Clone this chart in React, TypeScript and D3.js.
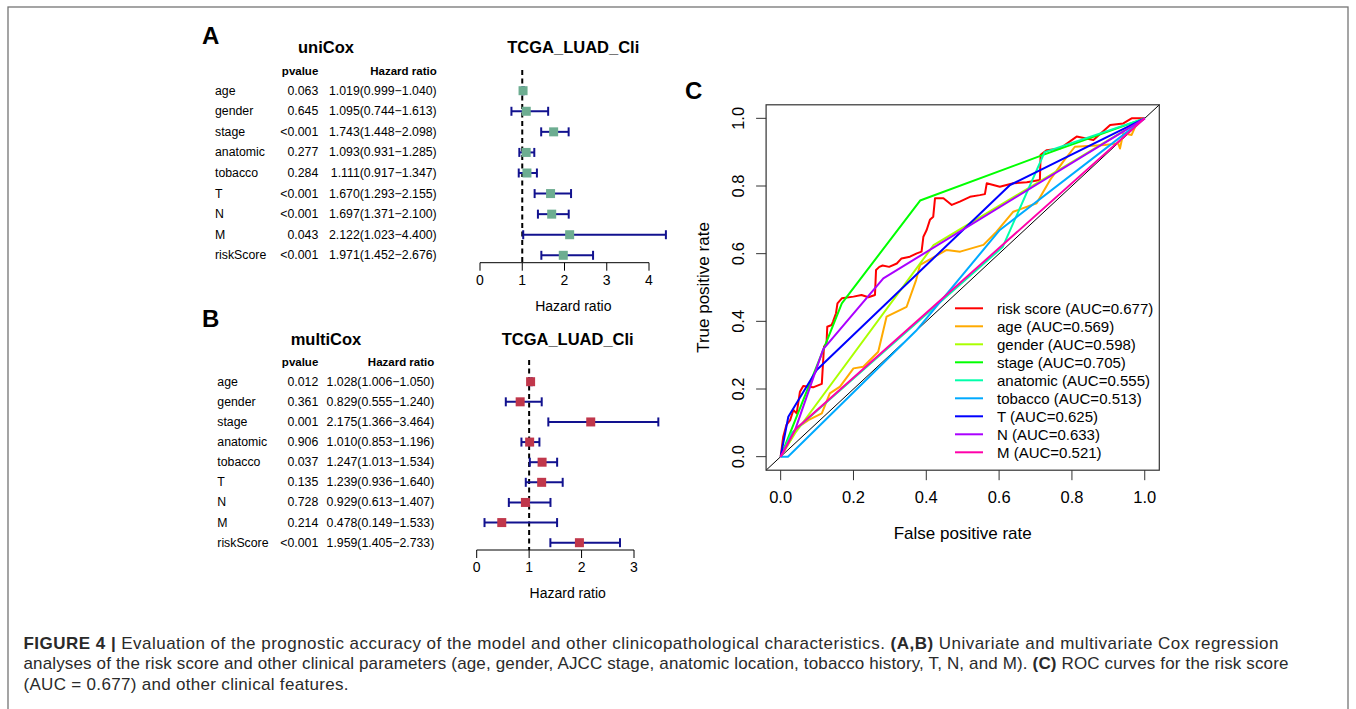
import React from 'react';
import * as d3 from 'd3';

// ---- forest data (A: univariate, B: multivariate) ----
const coxVars = ['age', 'gender', 'stage', 'anatomic', 'tobacco', 'T', 'N', 'M', 'riskScore'];

const uniP = ['0.063', '0.645', '<0.001', '0.277', '0.284', '<0.001', '<0.001', '0.043', '<0.001'];
const uniHR = [1.019, 1.095, 1.743, 1.093, 1.111, 1.670, 1.697, 2.122, 1.971];
const uniLow = [0.999, 0.744, 1.448, 0.931, 0.917, 1.293, 1.371, 1.023, 1.452];
const uniHigh = [1.040, 1.613, 2.098, 1.285, 1.347, 2.155, 2.100, 4.400, 2.676];
const uniTicks = [0, 1, 2, 3, 4];

const multiP = ['0.012', '0.361', '0.001', '0.906', '0.037', '0.135', '0.728', '0.214', '<0.001'];
const multiHR = [1.028, 0.829, 2.175, 1.010, 1.247, 1.239, 0.929, 0.478, 1.959];
const multiLow = [1.006, 0.555, 1.366, 0.853, 1.013, 0.936, 0.613, 0.149, 1.405];
const multiHigh = [1.050, 1.240, 3.464, 1.196, 1.534, 1.640, 1.407, 1.533, 2.733];
const multiTicks = [0, 1, 2, 3];

// ---- ROC data (C) ----
const rocNames = ['risk score', 'age', 'gender', 'stage', 'anatomic', 'tobacco', 'T', 'N', 'M'];
const rocAUC = ['0.677', '0.569', '0.598', '0.705', '0.555', '0.513', '0.625', '0.633', '0.521'];
const rocColors = ['#FF0000', '#FFAA00', '#AAFF00', '#00FF00', '#00FFAA', '#00AAFF', '#0000FF', '#AA00FF', '#FF00AA'];

const rocRisk = [
  [0, 0], [0.007, 0.059], [0.016, 0.094], [0.026, 0.108], [0.035, 0.138], [0.044, 0.128],
  [0.053, 0.192], [0.062, 0.209], [0.089, 0.205], [0.113, 0.215], [0.119, 0.325],
  [0.126, 0.335], [0.128, 0.384], [0.14, 0.389], [0.144, 0.40], [0.152, 0.424],
  [0.156, 0.453], [0.168, 0.468], [0.2, 0.473], [0.222, 0.478], [0.241, 0.471],
  [0.259, 0.478], [0.262, 0.552], [0.271, 0.561], [0.28, 0.565], [0.298, 0.561],
  [0.319, 0.571], [0.332, 0.586], [0.355, 0.591], [0.374, 0.601], [0.387, 0.606],
  [0.392, 0.650], [0.401, 0.670], [0.41, 0.70], [0.419, 0.709], [0.424, 0.764],
  [0.447, 0.764], [0.47, 0.744], [0.492, 0.754], [0.52, 0.768], [0.547, 0.773],
  [0.561, 0.776], [0.566, 0.808], [0.602, 0.798], [0.639, 0.808], [0.676, 0.811],
  [0.712, 0.818], [0.714, 0.892], [0.731, 0.906], [0.767, 0.911], [0.813, 0.946],
  [0.859, 0.936], [0.905, 0.98], [0.941, 0.985], [0.964, 1.0], [1, 1],
];
const rocAge = [
  [0, 0], [0.045, 0.085], [0.076, 0.108], [0.113, 0.128], [0.135, 0.187], [0.163, 0.207],
  [0.2, 0.261], [0.227, 0.266], [0.268, 0.31], [0.291, 0.414], [0.346, 0.443],
  [0.372, 0.522], [0.383, 0.567], [0.456, 0.611], [0.493, 0.606], [0.557, 0.626],
  [0.593, 0.665], [0.639, 0.724], [0.703, 0.749], [0.74, 0.818], [0.776, 0.872],
  [0.808, 0.916], [0.89, 0.921], [0.927, 0.926], [0.932, 0.911], [0.941, 0.956],
  [0.964, 0.951], [0.98, 0.99], [1, 1],
];
const rocGender = [[0, 0], [0.04, 0.07], [0.42, 0.625], [1, 1]];
const rocStage = [[0, 0], [0.168, 0.453], [0.383, 0.757], [0.721, 0.892], [1, 1]];
const rocAnatomic = [[0, 0], [0.03, 0.07], [0.61, 0.62], [0.725, 0.9], [1, 1]];
const rocTobacco = [[0, 0], [0.02, 0], [0.372, 0.372], [0.602, 0.67], [1, 1]];
const rocT = [[0, 0], [0.021, 0.118], [0.099, 0.256], [0.63, 0.803], [1, 1]];
const rocN = [[0, 0], [0.04, 0.08], [0.117, 0.318], [0.282, 0.527], [1, 1]];
const rocM = [[0, 0], [0.04, 0.08], [1, 1]];
const rocSeries = [rocRisk, rocAge, rocGender, rocStage, rocAnatomic, rocTobacco, rocT, rocN, rocM];
const rocTicks = [0, 0.2, 0.4, 0.6, 0.8, 1.0];

const captionLines = [
  [['FIGURE 4 | ', true], ['Evaluation of the prognostic accuracy of the model and other clinicopathological characteristics. ', false], ['(A,B)', true], [' Univariate and multivariate Cox regression', false]],
  [['analyses of the risk score and other clinical parameters (age, gender, AJCC stage, anatomic location, tobacco history, T, N, and M). ', false], ['(C)', true], [' ROC curves for the risk score', false]],
  [['(AUC = 0.677) and other clinical features.', false]],
];
const captionWidths = [1255, 1265, 325];

const FONT = 'Liberation Sans, Arial, Helvetica, sans-serif';

function Forest(props: any) {
  const { letter, letterY, title, titleY, plotX, headerY, labelX, pX, hrX, rowTop, rowBottom,
    axisX0, axisX1, ticks, axisY, dashTop, tickY, xlabY, p, hr, lo, hi, boxColor } = props;
  const x = d3.scaleLinear().domain([0, ticks[ticks.length - 1]]).range([axisX0, axisX1]);
  const y = d3.scalePoint().domain(coxVars).range([rowTop, rowBottom]);
  const barColor = '#12128F';
  return (
    <g fontFamily={FONT}>
      <text x={202} y={letterY} dominantBaseline="central" fontSize={24} fontWeight="bold">{letter}</text>
      <text x={326} y={titleY} textAnchor="middle" dominantBaseline="central" fontSize={16.5} fontWeight="bold">{title}</text>
      <text x={plotX} y={titleY} textAnchor="middle" dominantBaseline="central" fontSize={16.5} fontWeight="bold">TCGA_LUAD_Cli</text>
      <text x={pX} y={headerY} textAnchor="end" dominantBaseline="central" fontSize={11.5} fontWeight="bold">pvalue</text>
      <text x={hrX} y={headerY} textAnchor="end" dominantBaseline="central" fontSize={11.5} fontWeight="bold">Hazard ratio</text>
      {coxVars.map((v, i) => (
        <g key={v} fontSize={12.3}>
          <text x={labelX} y={y(v)} dominantBaseline="central">{v}</text>
          <text x={pX} y={y(v)} textAnchor="end" dominantBaseline="central">{p[i]}</text>
          <text x={hrX} y={y(v)} textAnchor="end" dominantBaseline="central">
            {`${hr[i].toFixed(3)}(${lo[i].toFixed(3)}\u2212${hi[i].toFixed(3)})`}
          </text>
        </g>
      ))}
      <line x1={x(1)} x2={x(1)} y1={dashTop} y2={axisY} stroke="#000" strokeWidth={2} strokeDasharray="5,3.5" />
      {coxVars.map((v, i) => {
        const yy = y(v) as number;
        return (
          <g key={v}>
            <line x1={x(lo[i])} x2={x(hi[i])} y1={yy} y2={yy} stroke={barColor} strokeWidth={2} />
            <line x1={x(lo[i])} x2={x(lo[i])} y1={yy - 4.5} y2={yy + 4.5} stroke={barColor} strokeWidth={2} />
            <line x1={x(hi[i])} x2={x(hi[i])} y1={yy - 4.5} y2={yy + 4.5} stroke={barColor} strokeWidth={2} />
            <rect x={x(hr[i]) - 4.5} y={yy - 4.5} width={9} height={9} fill={boxColor} />
          </g>
        );
      })}
      <line x1={x(0)} x2={x(ticks[ticks.length - 1])} y1={axisY} y2={axisY} stroke="#000" strokeWidth={1} />
      {ticks.map((t: number) => (
        <g key={t}>
          <line x1={x(t)} x2={x(t)} y1={axisY} y2={axisY + 8} stroke="#000" strokeWidth={1} />
          <text x={x(t)} y={tickY} textAnchor="middle" dominantBaseline="central" fontSize={14}>{t}</text>
        </g>
      ))}
      <text x={plotX} y={xlabY} textAnchor="middle" dominantBaseline="central" fontSize={14}>Hazard ratio</text>
    </g>
  );
}

function Roc() {
  const x = d3.scaleLinear().domain([-0.04, 1.04]).range([766.1, 1159.3]);
  const y = d3.scaleLinear().domain([-0.04, 1.04]).range([470.2, 104.8]);
  const line = d3.line<number[]>().x(d => x(d[0])).y(d => y(d[1]));
  const legY = d3.scalePoint().domain(rocNames).range([308.3, 452.3]);
  return (
    <g fontFamily={FONT}>
      <text x={685} y={90} dominantBaseline="central" fontSize={24} fontWeight="bold">C</text>
      <line x1={x(-0.04)} y1={y(-0.04)} x2={x(1.04)} y2={y(1.04)} stroke="#000" strokeWidth={1} />
      {rocSeries.map((s, i) => (
        <path key={rocNames[i]} d={line(s as number[][]) || ''} fill="none" stroke={rocColors[i]} strokeWidth={2} strokeLinejoin="round" />
      ))}
      <rect x={x(-0.04)} y={y(1.04)} width={x(1.04) - x(-0.04)} height={y(-0.04) - y(1.04)} fill="none" stroke="#333" strokeWidth={1.2} />
      {rocTicks.map(t => (
        <g key={'x' + t}>
          <line x1={x(t)} x2={x(t)} y1={y(-0.04)} y2={y(-0.04) + 10} stroke="#333" />
          <text x={x(t)} y={496.7} textAnchor="middle" dominantBaseline="central" fontSize={16.5}>{t.toFixed(1)}</text>
          <line x1={x(-0.04)} x2={x(-0.04) - 10} y1={y(t)} y2={y(t)} stroke="#333" />
          <text transform={`translate(738,${y(t)}) rotate(-90)`} textAnchor="middle" dominantBaseline="central" fontSize={16.5}>{t.toFixed(1)}</text>
        </g>
      ))}
      <text x={962.7} y={533} textAnchor="middle" dominantBaseline="central" fontSize={17}>False positive rate</text>
      <text transform={`translate(703.3,287.5) rotate(-90)`} textAnchor="middle" dominantBaseline="central" fontSize={17}>True positive rate</text>
      {rocNames.map((n, i) => (
        <g key={n}>
          <line x1={955} x2={983} y1={legY(n)} y2={legY(n)} stroke={rocColors[i]} strokeWidth={2} />
          <text x={997} y={legY(n)} dominantBaseline="central" fontSize={15}>{`${n} (AUC=${rocAUC[i]})`}</text>
        </g>
      ))}
    </g>
  );
}

export default function App() {
  return (
    <svg width={1356} height={709} style={{ position: 'absolute', left: 0, top: 0, background: '#fff' }}>
      <rect x={8} y={7} width={1340} height={720} fill="#fff" stroke="#757575" strokeWidth={1.3} />
      <Forest letter="A" letterY={35.3} title="uniCox" titleY={46.7} plotX={573.3} headerY={71.3}
        labelX={215} pX={318.3} hrX={436.7} rowTop={90.7} rowBottom={255.3}
        axisX0={480} axisX1={649} ticks={uniTicks} axisY={262.7} dashTop={70} tickY={280} xlabY={306}
        p={uniP} hr={uniHR} lo={uniLow} hi={uniHigh} boxColor="#6DAD91" />
      <Forest letter="B" letterY={318.3} title="multiCox" titleY={339.3} plotX={567.7} headerY={362.3}
        labelX={217.3} pX={318.3} hrX={434.3} rowTop={381.7} rowBottom={542.7}
        axisX0={476.7} axisX1={634} ticks={multiTicks} axisY={550} dashTop={360} tickY={566.7} xlabY={592.7}
        p={multiP} hr={multiHR} lo={multiLow} hi={multiHigh} boxColor="#C0374B" />
      <Roc />
      <g fontFamily={FONT} fontSize={17} fill="#2A2A2A">
        {captionLines.map((ln, i) => (
          <text key={i} x={23.5} y={648.5 + i * 20.5} textLength={captionWidths[i]} lengthAdjust="spacing">
            {ln.map((seg, j) => (
              <tspan key={j} fontWeight={seg[1] ? 'bold' : 'normal'}>{seg[0] as string}</tspan>
            ))}
          </text>
        ))}
      </g>
    </svg>
  );
}
